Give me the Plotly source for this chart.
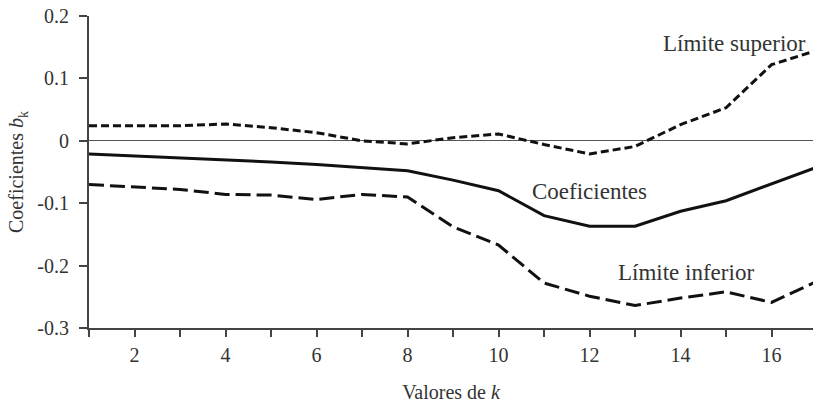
import plotly.graph_objects as go

k = list(range(1, 18))
coeficientes = [-0.021, -0.024, -0.027, -0.030, -0.034, -0.038, -0.043, -0.048,
                -0.063, -0.080, -0.120, -0.137, -0.137, -0.113, -0.096, -0.069, -0.042]
limite_superior = [0.024, 0.024, 0.024, 0.027, 0.021, 0.013, 0.000, -0.005,
                   0.005, 0.011, -0.006, -0.021, -0.009, 0.026, 0.053, 0.122, 0.145]
limite_inferior = [-0.070, -0.074, -0.078, -0.086, -0.087, -0.094, -0.086, -0.090,
                   -0.138, -0.167, -0.228, -0.249, -0.264, -0.252, -0.242, -0.259, -0.225]

y_ticks = [0.2, 0.1, 0, -0.1, -0.2, -0.3]
y_ticktext = ["0.2", "0.1", "0", "-0.1", "-0.2", "-0.3"]
x_ticktext = [str(v) if v % 2 == 0 else "" for v in k]

FONT = "'Liberation Serif', 'DejaVu Serif', 'Times New Roman', serif"
TXT = "#333333"
LINE = "#111111"

fig = go.Figure()
fig.add_trace(go.Scatter(x=k, y=limite_superior, mode="lines",
                         line=dict(color=LINE, width=3, dash="8px,4px")))
fig.add_trace(go.Scatter(x=k, y=coeficientes, mode="lines",
                         line=dict(color=LINE, width=3)))
fig.add_trace(go.Scatter(x=k, y=limite_inferior, mode="lines",
                         line=dict(color=LINE, width=3, dash="15px,6px")))

labels = [("Límite superior", 15.19, 0.156),
          ("Coeficientes", 12.0, -0.081),
          ("Límite inferior", 14.13, -0.211)]
for text, xv, yv in labels:
    fig.add_annotation(x=xv, y=yv, text=text, showarrow=False,
                       font=dict(family=FONT, size=23, color=TXT),
                       xanchor="center", yanchor="middle")

fig.update_layout(
    width=813, height=406,
    margin=dict(l=89, r=0, t=16, b=78),
    paper_bgcolor="white", plot_bgcolor="white",
    showlegend=False,
    font=dict(family=FONT, color=TXT, size=20),
    xaxis=dict(range=[1, 16.91], tickmode="array", tickvals=k, ticktext=x_ticktext,
               ticks="outside", ticklen=7, tickwidth=2, tickcolor="#444",
               showline=True, linecolor="#444", linewidth=2,
               showgrid=False, zeroline=False,
               tickfont=dict(family=FONT, size=20, color=TXT),
               ticklabelstandoff=1,
               title=dict(text="Valores de <i>k</i>", font=dict(family=FONT, size=20, color=TXT),
                          standoff=20)),
    yaxis=dict(range=[-0.3, 0.2], tickmode="array", tickvals=y_ticks, ticktext=y_ticktext,
               ticks="outside", ticklen=8, tickwidth=2, tickcolor="#444",
               showline=True, linecolor="#444", linewidth=2,
               showgrid=False, zeroline=True, zerolinecolor="#555", zerolinewidth=1.2,
               tickfont=dict(family=FONT, size=20, color=TXT),
               ticklabelstandoff=6,
               title=dict(text="Coeficientes <i>b</i><sub>k</sub>",
                          font=dict(family=FONT, size=20, color=TXT), standoff=8)),
)

fig.write_html("out.html")
